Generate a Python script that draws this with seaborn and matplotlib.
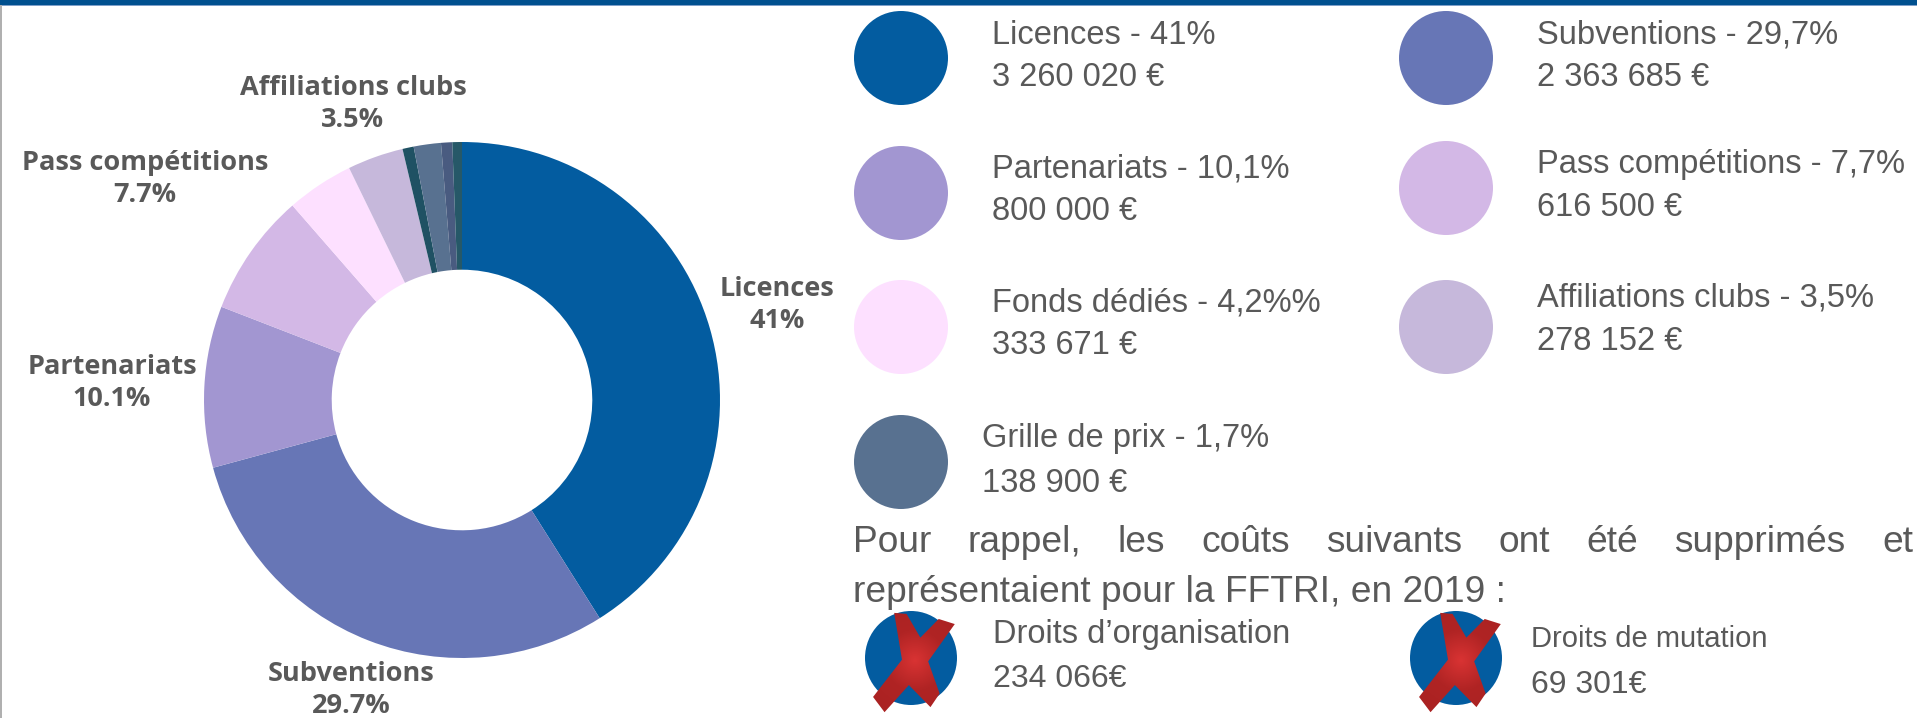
import numpy as np
import matplotlib
matplotlib.use("Agg")
import matplotlib.pyplot as plt
from matplotlib.patches import Ellipse, Polygon, Rectangle
import seaborn as sns

sns.set_theme(style="white")
plt.rcParams['font.family'] = ['Liberation Sans', 'DejaVu Sans']

W, H = 1917, 718
GREY = "#595959"

# Donut data (percent), clockwise from the top
slices = ["Licences", "Subventions", "Partenariats", "Pass compétitions", "Fonds dédiés",
          "Affiliations clubs", "Autre 1", "Grille de prix", "Autre 2", "Autre 3"]
shares = [41, 29.7, 10.1, 7.7, 4.2, 3.5, 0.7, 1.7, 0.7, 0.6]
slice_colors = ["#035ca0", "#6776b6", "#a296d1", "#d3b8e6", "#fde0ff",
                "#c6b8db", "#1f5163", "#587190", "#495b80", "#265868"]

# Labels of the donut
donut_labels = ["Licences\n41%", "Subventions\n29.7%", "Partenariats\n10.1%",
                "Pass compétitions\n7.7%", "Affiliations clubs\n3.5%"]
donut_label_xy = [(777, 305), (351, 690), (112, 383), (145, 179), (353, 104)]

# Legend
legend_names = ["Licences - 41%", "Subventions - 29,7%", "Partenariats - 10,1%",
                "Pass compétitions - 7,7%", "Fonds dédiés - 4,2%%", "Affiliations clubs - 3,5%",
                "Grille de prix - 1,7%"]
legend_values = ["3 260 020 €", "2 363 685 €", "800 000 €", "616 500 €",
                 "333 671 €", "278 152 €", "138 900 €"]
legend_colors = ["#035ca0", "#6776b6", "#a296d1", "#d3b8e6", "#fde0ff", "#c6b8db", "#587190"]
legend_circle_xy = [(901, 58), (1446, 58), (901, 193), (1446, 188), (901, 327), (1446, 327), (901, 462)]
legend_text_x = [992, 1537, 992, 1537, 992, 1537, 982]
legend_name_y = [35, 35, 169, 164, 303, 298, 438]
legend_value_y = [78, 78, 212, 207, 346, 341, 483]

removed_names = ["Droits d’organisation", "Droits de mutation"]
removed_values = ["234 066€", "69 301€"]
removed_name_sizes = [23.5, 21]
removed_circle_xy = [(911, 658), (1456, 658)]
removed_text_x = [993, 1531]
removed_name_y = [634, 639]
removed_value_y = [679, 685]

note_line1 = "Pour rappel, les coûts suivants ont été supprimés et"
note_line2 = "représentaient pour la FFTRI, en 2019 :"

fig = plt.figure(figsize=(W / 100, H / 100), dpi=100, facecolor="white")

# Donut
cx, cy, r = 462, 400, 258
ax = fig.add_axes([(cx - r) / W, 1 - (cy + r) / H, 2 * r / W, 2 * r / H])
ax.pie(shares, colors=sns.color_palette(slice_colors), startangle=90, counterclock=False,
       radius=1, wedgeprops=dict(width=0.495, linewidth=0))
ax.set_xlim(-1, 1)
ax.set_ylim(-1, 1)
ax.set_axis_off()

# Pixel overlay
ov = fig.add_axes([0, 0, 1, 1], zorder=5)
ov.patch.set_alpha(0)
ov.set_axis_off()

ov.add_patch(Rectangle((0, 0), W, 4.5, color="#00508f", lw=0))
ov.add_patch(Rectangle((0, 4.5), W, 1.5, color="#7e9fc9", lw=0))
ov.add_patch(Rectangle((0, 5), 2, H, color="#b0b0b0", lw=0))

for s, (x, y) in zip(donut_labels, donut_label_xy):
    ov.text(x, y, s, ha="center", va="center", fontsize=19.5, fontweight="bold",
            family="Open Sans", color="#595959", linespacing=1.33)

for i, (name, val) in enumerate(zip(legend_names, legend_values)):
    x, y = legend_circle_xy[i]
    ov.add_patch(Ellipse((x, y), 94, 94, color=legend_colors[i], lw=0))
    ov.text(legend_text_x[i], legend_name_y[i], name, fontsize=23.5, color=GREY, va="center")
    ov.text(legend_text_x[i], legend_value_y[i], val, fontsize=23.5, color=GREY, va="center")

# Justified first line of the note, second line flush left
words = note_line1.split(" ")
renderer = fig.canvas.get_renderer()
ov.set_xlim(0, W)
ov.set_ylim(H, 0)
texts = [ov.text(0, 542, w, fontsize=26.7, color=GREY, va="center") for w in words]
widths = [t.get_window_extent(renderer).width for t in texts]
left, right = 853, 1913
gap = (right - left - sum(widths)) / (len(words) - 1)
xpos = left
for t, w in zip(texts, widths):
    t.set_x(xpos)
    xpos += w + gap
ov.text(left, 593, note_line2, fontsize=26.7, color=GREY, va="center")

# Crossed-out items
cross = np.array([(118, 97), (145, 100), (175, 170), (215, 115), (250, 130), (192, 240), (217, 335),
                  (197, 375), (150, 310), (97, 390), (72, 345), (135, 235)], float) / np.array([2.178, 2.95])
yy, xx = np.mgrid[-1:1:200j, -1:1:200j]
grad = np.sqrt(xx ** 2 + yy ** 2)
cmap = matplotlib.colors.LinearSegmentedColormap.from_list("x", ["#d93333", "#b02424", "#aa2222"])
for i, (x, y) in enumerate(removed_circle_xy):
    ov.add_patch(Ellipse((x, y), 92, 94, color="#035ca0", lw=0))
    pts = cross + np.array([840 + 546 * i, 580])
    poly = Polygon(pts, closed=True, fc="none", ec="none", transform=ov.transData)
    ov.add_patch(poly)
    c = pts.mean(axis=0)
    im = ov.imshow(grad, extent=(c[0] - 60, c[0] + 60, c[1] + 60, c[1] - 60), cmap=cmap,
                   vmin=0, vmax=1, aspect="auto", zorder=3)
    im.set_clip_path(poly)
    ov.text(removed_text_x[i], removed_name_y[i], removed_names[i], fontsize=removed_name_sizes[i],
            color=GREY, va="center")
    ov.text(removed_text_x[i], removed_value_y[i], removed_values[i], fontsize=23, color=GREY, va="center")

ov.set_xlim(0, W)
ov.set_ylim(H, 0)

fig.savefig("out.png", dpi=100, facecolor="white")
